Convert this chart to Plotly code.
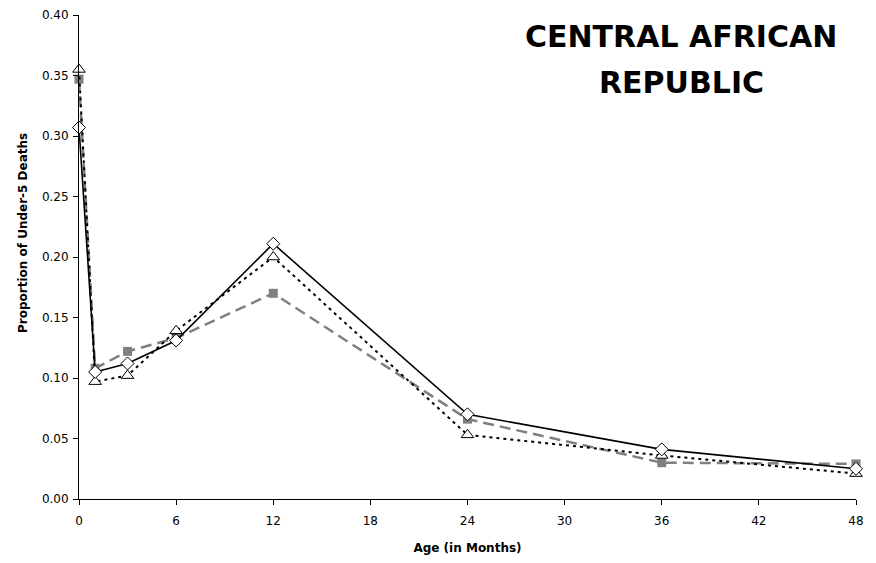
import plotly.graph_objects as go

ages = [0, 1, 3, 6, 12, 24, 36, 48]
series_solid = [0.307, 0.105, 0.112, 0.131, 0.211, 0.070, 0.041, 0.025]
series_gray = [0.347, 0.108, 0.122, 0.133, 0.170, 0.066, 0.030, 0.029]
series_dotted = [0.355, 0.097, 0.102, 0.139, 0.200, 0.053, 0.036, 0.021]

x_ticks = [0, 6, 12, 18, 24, 30, 36, 42, 48]
y_ticks = [0, 0.05, 0.10, 0.15, 0.20, 0.25, 0.30, 0.35, 0.40]

title_lines = ["CENTRAL AFRICAN", "REPUBLIC"]
x_title = "Age (in Months)"
y_title = "Proportion of Under-5 Deaths"

FONT = "DejaVu Sans, Arial, sans-serif"

# page body has an 8px margin; compensate so the plot area lands at 79..856 x 15..499
W, H = 860, 547
ML, MR, MT, MB = 71, 12, 7, 56
PW, PH = W - ML - MR, H - MT - MB


def px_to_paper(px, py):
    return (px - 8 - ML) / PW, 1 - (py - 8 - MT) / PH


fig = go.Figure()
fig.add_trace(go.Scatter(
    x=ages, y=series_gray, mode="lines+markers", cliponaxis=False,
    line=dict(color="#808080", width=2.5, dash="11px,6px"),
    marker=dict(symbol="square", size=9, color="#808080"),
    showlegend=False))
fig.add_trace(go.Scatter(
    x=ages, y=series_dotted, mode="lines+markers", cliponaxis=False,
    line=dict(color="black", width=2, dash="3px,4px"),
    marker=dict(symbol="triangle-up", size=11, color="white", line=dict(color="black", width=1)),
    showlegend=False))
fig.add_trace(go.Scatter(
    x=ages, y=series_solid, mode="lines+markers", cliponaxis=False,
    line=dict(color="black", width=1.6),
    marker=dict(symbol="diamond", size=10, color="white", line=dict(color="black", width=1)),
    showlegend=False))

for text, py in zip(title_lines, [37, 82]):
    ax, ay = px_to_paper(681, py)
    fig.add_annotation(
        text=f"<b>{text}</b>", x=ax, y=ay, xref="paper", yref="paper",
        xanchor="center", yanchor="middle", showarrow=False,
        font=dict(family=FONT, size=30, color="black"))

yx, yy = px_to_paper(23, 233)
fig.add_annotation(
    text=f"<b>{y_title}</b>", x=yx, y=yy, xref="paper", yref="paper",
    xanchor="center", yanchor="middle", textangle=-90, showarrow=False,
    font=dict(family=FONT, size=12, color="black"))

fig.update_layout(
    width=W, height=H,
    margin=dict(l=ML, r=MR, t=MT, b=MB, autoexpand=False),
    paper_bgcolor="white", plot_bgcolor="white",
    font=dict(family=FONT, size=12, color="black"),
)
fig.update_xaxes(
    range=[0, 48], tickvals=x_ticks, ticktext=[str(v) for v in x_ticks],
    showgrid=False, zeroline=False, showline=True, linecolor="black", linewidth=1,
    ticks="outside", ticklen=5, tickcolor="black", automargin=False,
    ticklabelstandoff=6,
    title=dict(text=f"<b>{x_title}</b>", font=dict(size=12), standoff=16),
    tickfont=dict(size=12))
fig.update_yaxes(
    range=[0, 0.40], tickvals=y_ticks, ticktext=[f"{v:.2f}" for v in y_ticks],
    showgrid=False, zeroline=False, showline=True, linecolor="black", linewidth=1,
    ticks="outside", ticklen=5, tickcolor="black", automargin=False,
    ticklabelstandoff=2,
    tickfont=dict(size=12))

fig.write_html("out.html")
